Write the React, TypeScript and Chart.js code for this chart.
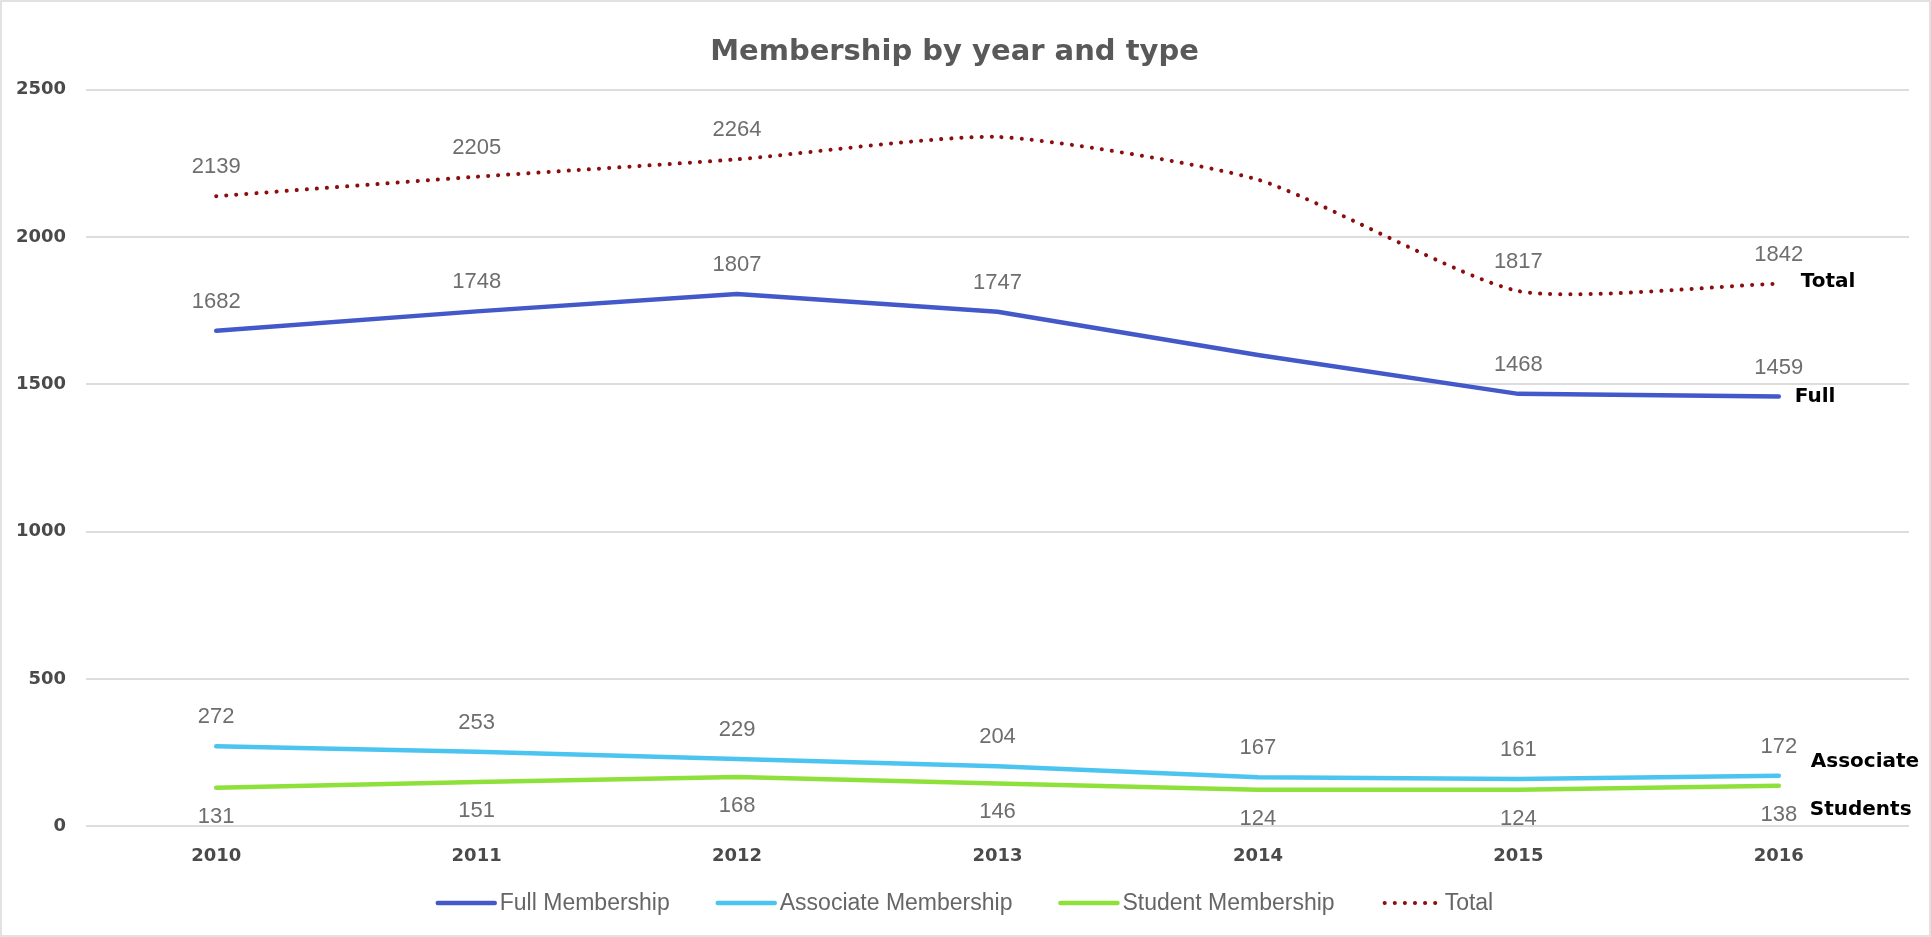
import React, { useEffect, useRef } from 'react';
import { Chart, registerables } from 'chart.js';

Chart.register(...registerables);

// ---------- data ----------
const years = ['2010', '2011', '2012', '2013', '2014', '2015', '2016'];
const fullMembership = [1682, 1748, 1807, 1747, 1600, 1468, 1459];
const associateMembership = [272, 253, 229, 204, 167, 161, 172];
const studentMembership = [131, 151, 168, 146, 124, 124, 138];
const totalMembership = [2139, 2205, 2264, 2340, 2195, 1817, 1842];

const fullLabelShown = [true, true, true, true, false, true, true];
const associateLabelShown = [true, true, true, true, true, true, true];
const studentLabelShown = [true, true, true, true, true, true, true];
const totalLabelShown = [true, true, true, false, false, true, true];

const seriesNames = ['Full Membership', 'Associate Membership', 'Student Membership', 'Total'];
const endLabels = ['Full', 'Associate', 'Students', 'Total'];
const chartTitle = 'Membership by year and type';
const yMin = 0;
const yMax = 2500;
const yStep = 500;

// ---------- styles ----------
const W = 1931;
const H = 937;
const COLORS = ['#4358c9', '#4cc4f0', '#8ee03b', '#8b0d0d'];
const LABEL_DIR = ['above', 'above', 'below', 'above'];
const END_OFFSETS = [
  [16, 0],
  [32, -14],
  [31, 24],
  [22, -2],
];
const LABEL_GAP = 29;

const bgPlugin = {
  id: 'bgBorder',
  beforeDraw(chart: any) {
    const { ctx, width, height } = chart;
    ctx.save();
    ctx.fillStyle = '#ffffff';
    ctx.fillRect(0, 0, width, height);
    ctx.strokeStyle = '#d9d9d9';
    ctx.lineWidth = 1.5;
    ctx.strokeRect(1, 1, width - 2, height - 2);
    ctx.restore();
  },
};

const dataLabelPlugin = {
  id: 'dataLabels',
  afterDatasetsDraw(chart: any) {
    const { ctx } = chart;
    ctx.save();
    ctx.font = '22px "Liberation Sans", Arial, sans-serif';
    ctx.fillStyle = '#6e6e6e';
    ctx.textAlign = 'center';
    ctx.textBaseline = 'middle';
    chart.data.datasets.forEach((ds: any, i: number) => {
      const meta = chart.getDatasetMeta(i);
      meta.data.forEach((pt: any, j: number) => {
        if (!ds.labelShown[j]) return;
        const dy = ds.labelDir === 'below' ? LABEL_GAP : -LABEL_GAP;
        ctx.fillText(String(ds.data[j]), pt.x, pt.y + dy);
      });
    });
    ctx.restore();
  },
};

const endLabelPlugin = {
  id: 'endLabels',
  afterDatasetsDraw(chart: any) {
    const { ctx } = chart;
    ctx.save();
    ctx.font = 'bold 20px "DejaVu Sans", sans-serif';
    ctx.fillStyle = '#000000';
    ctx.textAlign = 'left';
    ctx.textBaseline = 'middle';
    chart.data.datasets.forEach((ds: any, i: number) => {
      const meta = chart.getDatasetMeta(i);
      const last = meta.data[meta.data.length - 1];
      const [dx, dy] = ds.endOffset;
      ctx.fillText(ds.endLabel, last.x + dx, last.y + dy);
    });
    ctx.restore();
  },
};

const legendPlugin = {
  id: 'customLegend',
  afterDraw(chart: any) {
    const { ctx, width } = chart;
    const sample = 57;
    const gapText = 5;
    const gapItem = 48;
    const yc = 903;
    ctx.save();
    ctx.font = '23px "Liberation Sans", Arial, sans-serif';
    ctx.textBaseline = 'middle';
    ctx.textAlign = 'left';
    const items = chart.data.datasets.map((ds: any) => ({
      ds,
      tw: ctx.measureText(ds.label).width,
    }));
    const total =
      items.reduce((s: number, it: any) => s + sample + gapText + it.tw, 0) +
      gapItem * (items.length - 1);
    let x = width / 2 - total / 2;
    items.forEach((it: any) => {
      const ds = it.ds;
      ctx.save();
      ctx.strokeStyle = ds.borderColor;
      ctx.lineWidth = ds.borderWidth;
      ctx.lineCap = ds.borderCapStyle || 'butt';
      ctx.setLineDash(ds.borderDash || []);
      ctx.beginPath();
      ctx.moveTo(x + (ds.borderDash ? 2 : 0), yc);
      ctx.lineTo(x + sample, yc);
      ctx.stroke();
      ctx.restore();
      x += sample + gapText;
      ctx.fillStyle = '#666666';
      ctx.fillText(ds.label, x, yc + 1);
      x += it.tw + gapItem;
    });
    ctx.restore();
  },
};

export default function App() {
  const canvasRef = useRef<HTMLCanvasElement | null>(null);

  useEffect(() => {
    document.body.style.margin = '0';
    document.body.style.overflow = 'hidden';
    const canvas = canvasRef.current;
    if (!canvas) return;

    const seriesValues = [fullMembership, associateMembership, studentMembership, totalMembership];
    const shown = [fullLabelShown, associateLabelShown, studentLabelShown, totalLabelShown];

    const datasets: any[] = seriesValues.map((vals, i) => {
      const isTotal = i === 3;
      return {
        label: seriesNames[i],
        data: vals,
        borderColor: COLORS[i],
        backgroundColor: COLORS[i],
        borderWidth: isTotal ? 4 : 4.5,
        borderDash: isTotal ? [0.1, 10] : undefined,
        borderCapStyle: 'round',
        borderJoinStyle: 'round',
        tension: isTotal ? 0.2 : 0,
        pointRadius: 0,
        pointHoverRadius: 0,
        fill: false,
        labelShown: shown[i],
        labelDir: LABEL_DIR[i],
        endLabel: endLabels[i],
        endOffset: END_OFFSETS[i],
      };
    });

    const chart = new Chart(canvas, {
      type: 'line',
      data: { labels: years, datasets },
      options: {
        responsive: false,
        animation: false,
        events: [],
        layout: { padding: { left: 0, right: 22, top: 0, bottom: 51 } },
        plugins: {
          legend: { display: false },
          tooltip: { enabled: false },
          title: {
            display: true,
            text: chartTitle,
            color: '#595959',
            font: { family: '"DejaVu Sans", sans-serif', weight: 'bold', size: 29, lineHeight: 1.2 },
            padding: { top: 35, bottom: 20 },
          },
        },
        scales: {
          x: {
            offset: true,
            grid: { display: false, drawTicks: false },
            border: { display: false },
            ticks: {
              padding: 19,
              color: '#4a4a4a',
              font: { family: '"DejaVu Sans", sans-serif', weight: 'bold', size: 18, lineHeight: 1.2 },
            },
          },
          y: {
            min: yMin,
            max: yMax,
            grid: { color: '#dddddd', lineWidth: 2, drawTicks: false },
            border: { display: false },
            ticks: {
              stepSize: yStep,
              padding: 20,
              color: '#4a4a4a',
              font: { family: '"DejaVu Sans", sans-serif', weight: 'bold', size: 18 },
              callback: (v: any) => String(v),
            },
            afterFit: (scale: any) => {
              scale.width = 86;
            },
          },
        },
      },
      plugins: [bgPlugin, dataLabelPlugin, endLabelPlugin, legendPlugin],
    } as any);

    return () => chart.destroy();
  }, []);

  return (
    <div style={{ width: W, height: H, position: 'relative' }}>
      <canvas ref={canvasRef} width={W} height={H} style={{ width: W, height: H, display: 'block' }} />
    </div>
  );
}
